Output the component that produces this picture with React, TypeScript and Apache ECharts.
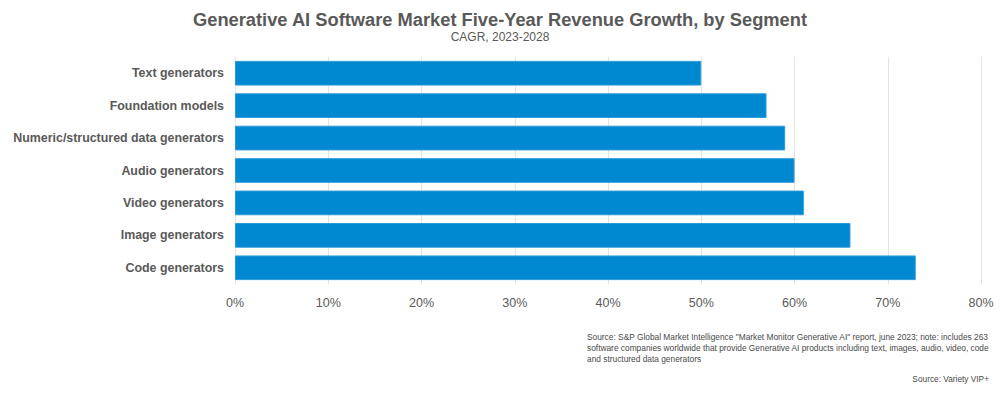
import React, { useEffect, useRef } from "react";
import * as echarts from "echarts";

const categories = [
  "Text generators",
  "Foundation models",
  "Numeric/structured data generators",
  "Audio generators",
  "Video generators",
  "Image generators",
  "Code generators",
];
const cagr = [50, 57, 59, 60, 61, 66, 73];
const xTicks = [0, 10, 20, 30, 40, 50, 60, 70, 80];

const title = "Generative AI Software Market Five-Year Revenue Growth, by Segment";
const subtitle = "CAGR, 2023-2028";
const note =
  'Source: S&P Global Market Intelligence "Market Monitor Generative AI" report, june 2023; note: includes 263\nsoftware companies worldwide that provide Generative AI products including text, images, audio, video, code\nand structured data generators';
const credit = "Source: Variety VIP+";

const FONT = "'Liberation Sans', Arial, Helvetica, sans-serif";
const GRAY = "#595959";

export default function App() {
  const ref = useRef<HTMLDivElement>(null);
  useEffect(() => {
    if (!ref.current) return;
    const chart = echarts.init(ref.current, null, { renderer: "svg" });
    chart.setOption({
      animation: false,
      backgroundColor: "#ffffff",
      textStyle: { fontFamily: FONT },
      title: {
        text: title,
        subtext: subtitle,
        left: "center",
        top: 5,
        itemGap: 3,
        textStyle: { fontFamily: FONT, fontSize: 18.3, fontWeight: "bold", color: GRAY },
        subtextStyle: { fontFamily: FONT, fontSize: 12, color: GRAY },
      },
      grid: { left: 235, right: 19, top: 57, bottom: 114, containLabel: false },
      xAxis: {
        type: "value",
        min: xTicks[0],
        max: xTicks[xTicks.length - 1],
        interval: 10,
        axisLine: { show: false },
        axisTick: { show: false },
        splitLine: { show: true, lineStyle: { color: "#e3e3e3", width: 1 } },
        axisLabel: {
          formatter: (v: number) => `${v}%`,
          color: GRAY,
          fontSize: 12.5,
          margin: 12,
          fontFamily: FONT,
        },
      },
      yAxis: {
        type: "category",
        data: categories,
        inverse: true,
        axisLine: { show: false },
        axisTick: { show: false },
        axisLabel: {
          color: GRAY,
          fontSize: 12.4,
          fontWeight: "bold",
          margin: 11,
          fontFamily: FONT,
        },
      },
      series: [
        {
          type: "bar",
          data: cagr,
          barCategoryGap: "24%",
          itemStyle: { color: "#0088d1", borderColor: "#2a9ad8", borderWidth: 1 },
        },
      ],
      graphic: [
        {
          type: "text",
          left: 587,
          top: 331,
          style: {
            text: note,
            fontSize: 8.35,
            lineHeight: 11,
            fill: "#4a4a4a",
            fontFamily: FONT,
          },
        },
        {
          type: "text",
          right: 11,
          top: 375,
          style: {
            text: credit,
            fontSize: 8.3,
            fill: "#4a4a4a",
            fontFamily: FONT,
          },
        },
      ],
    });
    return () => chart.dispose();
  }, []);
  return <div ref={ref} style={{ width: 1000, height: 398, position: "absolute", left: 0, top: 0 }} />;
}
